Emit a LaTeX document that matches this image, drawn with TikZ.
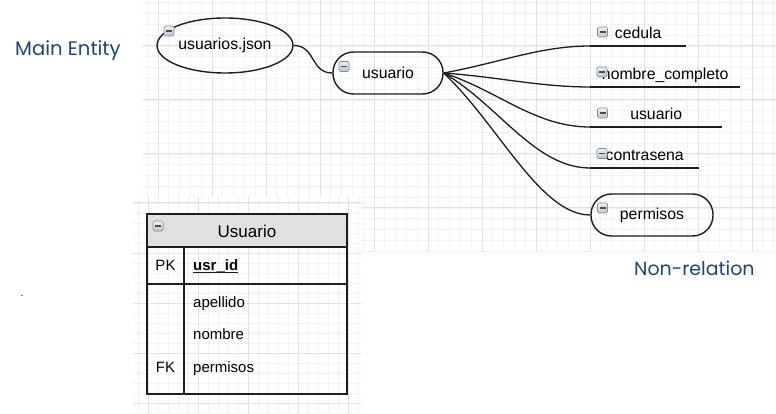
\documentclass[tikz,border=0pt]{standalone}
\usepackage{fontspec}
\setmainfont{Liberation Sans}
\newfontfamily\titlefont{Poppins}
\usetikzlibrary{shapes.geometric}
\definecolor{gridminor}{HTML}{F2F2F2}
\definecolor{gridmajor}{HTML}{E2E2E2}
\definecolor{titleblue}{HTML}{184A76}
\definecolor{linecol}{HTML}{1E1E1E}
\definecolor{hdrgray}{HTML}{E0E0E0}
\definecolor{iconborder}{HTML}{7F8C99}
\definecolor{icontop}{HTML}{EEF1F4}
\definecolor{iconbot}{HTML}{BCC6D0}
\tikzset{
  conn/.style={draw=linecol, line width=1.3pt},
  shapeline/.style={draw=linecol, line width=1.4pt},
  topic/.style={shapeline, rectangle, rounded corners=20.5pt, inner sep=0pt, minimum height=42pt, font=\fontsize{15.8}{18}\selectfont},
  attr/.style={inner sep=0pt, text depth=7pt, anchor=south west, font=\fontsize{15.8}{18}\selectfont},
  titletext/.style={text=titleblue, inner sep=0pt, anchor=base west, font=\titlefont\fontsize{19.6}{22}\selectfont},
  cell/.style={inner sep=0pt, font=\fontsize{15}{18}\selectfont},
  pics/minus/.style={code={
    \draw[draw=iconborder, line width=0.6pt, top color=icontop, bottom color=iconbot, rounded corners=1.5pt] (-5,-5) rectangle (5,5);
    \draw[draw=black!70, line width=1.6pt] (-3,0) -- (3,0);
  }}
}
\begin{document}
\begin{tikzpicture}[x=1pt, y=-1pt]
\useasboundingbox (0,0) rectangle (776,414);
\fill[white] (0,0) rectangle (776,414);
% top grid
\begin{scope}
  \clip (143,0) rectangle (776,252);
  \foreach \i in {-2,...,58} {
    \draw[gridminor, line width=0.8pt] ({158+10.8*\i},0) -- ({158+10.8*\i},252);
  }
  \foreach \i in {-5,...,20} {
    \draw[gridminor, line width=0.8pt] (143,{46+10.8*\i}) -- (776,{46+10.8*\i});
  }
  \foreach \i in {0,...,11} {
    \draw[gridmajor, line width=1pt] ({158+54*\i},0) -- ({158+54*\i},252);
  }
  \foreach \i in {0,...,3} {
    \draw[gridmajor, line width=1pt] (143,{46+54*\i}) -- (776,{46+54*\i});
  }
\end{scope}
% table image region
\fill[white] (133,197) rectangle (361,414);
\begin{scope}
  \clip (133,197) rectangle (361,414);
  \foreach \i in {-2,...,22} {
    \draw[gridminor, line width=0.8pt] ({148+10*\i},197) -- ({148+10*\i},414);
  }
  \foreach \i in {-1,...,21} {
    \draw[gridminor, line width=0.8pt] (133,{203+10*\i}) -- (361,{203+10*\i});
  }
  \foreach \i in {0,...,4} {
    \draw[gridmajor, line width=1pt] ({148+50*\i},197) -- ({148+50*\i},414);
  }
  \foreach \i in {0,...,4} {
    \draw[gridmajor, line width=1pt] (133,{203+50.2*\i}) -- (361,{203+50.2*\i});
  }
\end{scope}

% titles
\node[titletext] (mainent) at (15,56) {Main Entity};
\node[titletext, font=\titlefont\fontsize{19}{22}\selectfont] (nonrel) at (634,275) {Non-relation};
\node[inner sep=0pt, font=\fontsize{10}{12}\selectfont] (dot) at (22,296) {.};

% mind map nodes
\node[shapeline, ellipse, inner sep=0pt, minimum width=136pt, minimum height=55pt, font=\fontsize{15.8}{18}\selectfont] (json) at (225,45.5) {usuarios.json};
\node[topic, minimum width=110pt] (usu) at (388,73) {usuario};
\node[attr, minimum width=96pt] (ced) at (590,46) {cedula};
\node[attr, minimum width=150pt] (nom) at (590,87) {nombre\_completo};
\node[attr, minimum width=132pt] (usr) at (590,127) {usuario};
\node[attr, minimum width=109pt] (con) at (590,168) {contrasena};
\node[topic, minimum width=122pt] (perm) at (652,215) {permisos};

\draw[conn] (ced.south west) -- (ced.south east);
\draw[conn] (nom.south west) -- (nom.south east);
\draw[conn] (usr.south west) -- (usr.south east);
\draw[conn] (con.south west) -- (con.south east);

\draw[conn] (json.east) .. controls +(22,0) and +(-22,0) .. (usu.west);
\draw[conn] (usu.east) .. controls +(55,-10) and +(-50,0) .. (ced.south west);
\draw[conn] (usu.east) .. controls +(55,4) and +(-50,0) .. (nom.south west);
\draw[conn] (usu.east) .. controls +(55,18) and +(-55,0) .. (usr.south west);
\draw[conn] (usu.east) .. controls +(55,32) and +(-55,0) .. (con.south west);
\draw[conn] (usu.east) .. controls +(55,52) and +(-50,0) .. (perm.west);

\pic at (169,31) {minus};
\pic at (344,66.5) {minus};
\pic at (602.5,32) {minus};
\pic at (602,72) {minus};
\pic at (602.5,113) {minus};
\pic at (602,153.5) {minus};
\pic at (602.5,208) {minus};

% ER table
\fill[hdrgray] (147,214) rectangle (347,247);
\draw[shapeline] (147,214) rectangle (347,394);
\draw[shapeline] (147,247) -- (347,247);
\draw[shapeline] (147,284) -- (347,284);
\draw[shapeline] (184,247) -- (184,394);
\node[inner sep=0pt, font=\fontsize{17}{20}\selectfont] (tabtitle) at (247,231) {Usuario};
\pic at (158,226) {minus};
\node[cell, anchor=base] (pk) at (165.5,270) {PK};
\node[cell, anchor=base west, font=\fontsize{15}{18}\selectfont\bfseries] (usrid) at (193,270) {usr\_id};
\draw[linecol, line width=1.1pt] (usrid.base west)++(0,2.5) -- ++(45,0);
\node[cell, anchor=base west] (ape) at (193,307) {apellido};
\node[cell, anchor=base west] (nomb) at (193,339) {nombre};
\node[cell, anchor=base west] (perf) at (193,372) {permisos};
\node[cell, anchor=base] (fk) at (165.5,372) {FK};
\end{tikzpicture}
\end{document}
